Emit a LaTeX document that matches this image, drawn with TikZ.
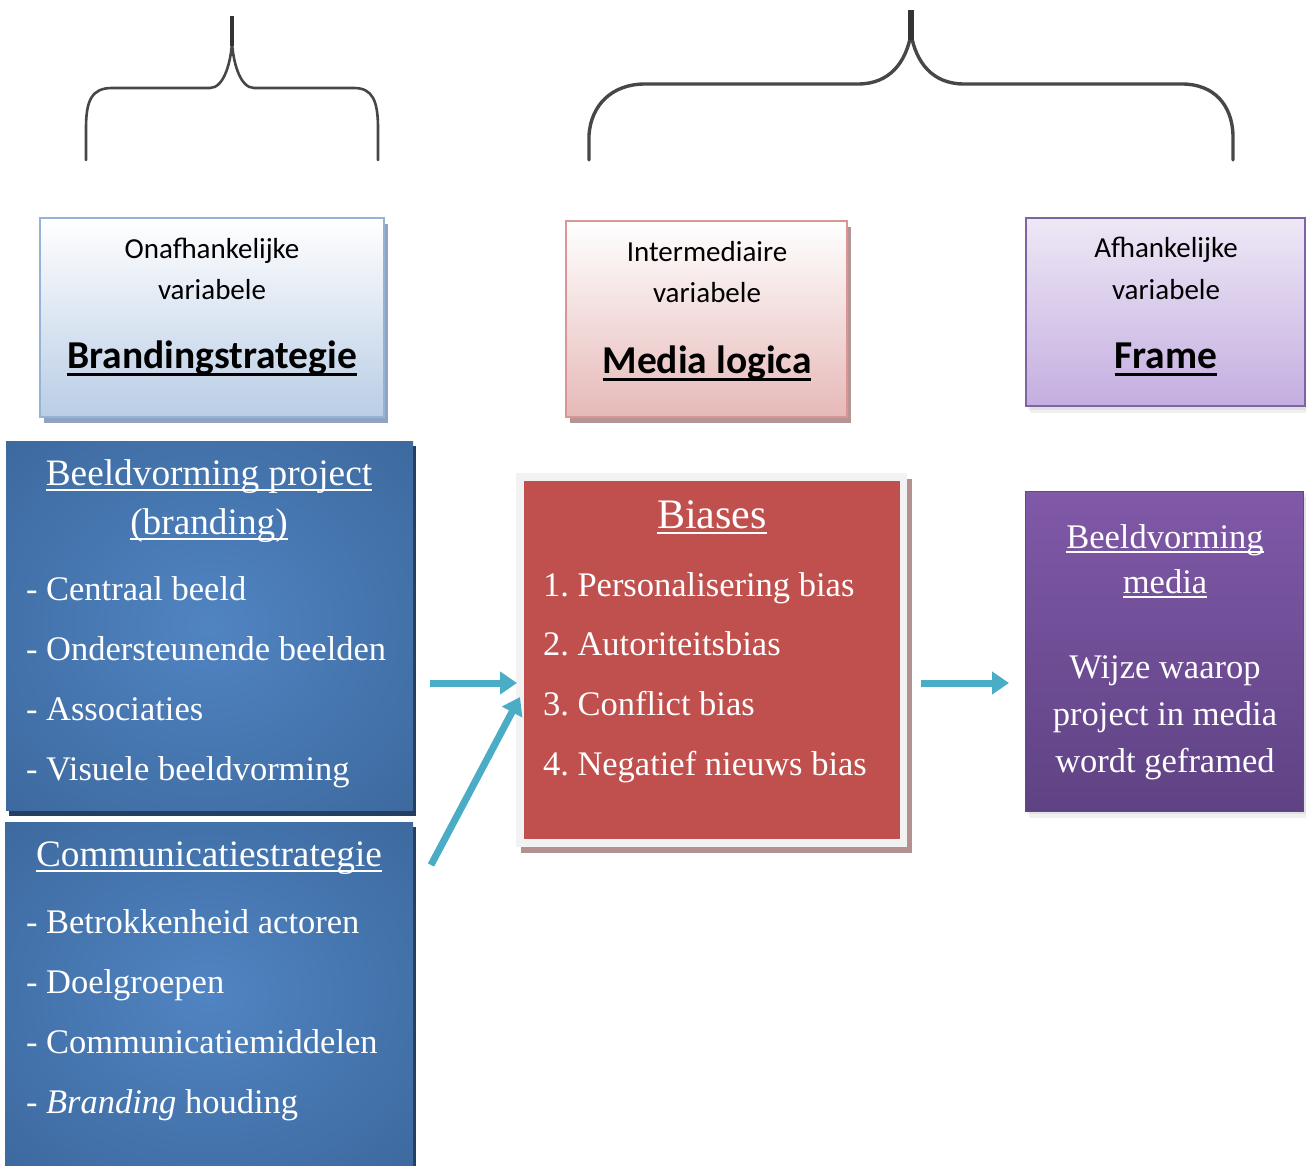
\documentclass[tikz,border=0pt]{standalone}
\usepackage{fontspec}
\setmainfont{Liberation Serif}
\newfontfamily\calib{Carlito}
\usetikzlibrary{arrows.meta}
\frenchspacing
\definecolor{arrowc}{HTML}{4BACC6}
\definecolor{blueI}{HTML}{5084C2}
\definecolor{blueO}{HTML}{355E90}
\definecolor{blueSh}{HTML}{243F60}
\definecolor{bAbot}{HTML}{B9CDE5}
\definecolor{bAbrd}{HTML}{95B3D7}
\definecolor{bAsh}{HTML}{8FA4C0}
\definecolor{bBbot}{HTML}{E6B9B8}
\definecolor{bBbrd}{HTML}{D99694}
\definecolor{bBsh}{HTML}{B59494}
\definecolor{bCtop}{HTML}{EEE8F6}
\definecolor{bCbot}{HTML}{C4AEE0}
\definecolor{bCbrd}{HTML}{8064A2}
\definecolor{redC}{HTML}{C0504D}
\definecolor{redFrame}{HTML}{F2F2F2}
\definecolor{redSh}{HTML}{B39191}
\definecolor{purT}{HTML}{8059A8}
\definecolor{purB}{HTML}{5F4284}
\pgfdeclareradialshading{bluerad}{\pgfpoint{0bp}{0bp}}{color(0bp)=(blueI); color(50bp)=(blueO)}
\newcommand\myul[3]{\setbox0\hbox{#3}\rlap{\rule[-#1]{\wd0}{#2}}\box0}
\newcommand\tms{\fontsize{34.5}{40}\selectfont}
\newcommand\tmsh{\fontsize{37.3}{43}\selectfont}
\tikzset{
  every node/.style={inner sep=0pt, outer sep=0pt},
  panel/.style={anchor=north west},
  shbox/.style={anchor=north west, fill=#1, draw=none},
  smalltxt/.style={font=\calib\fontsize{29}{34}\selectfont, anchor=base},
  bigtxt/.style={font=\calib\bfseries\fontsize{39.5}{44}\selectfont, anchor=base},
  wtxt/.style={font=\tms, text=white, anchor=base},
  wtxth/.style={font=\tmsh, text=white, anchor=base},
  wtxtl/.style={font=\tms, text=white, anchor=base west},
  arr/.style={draw=arrowc, line width=7pt, -{Triangle[length=17pt,width=22pt]}},
  bracel/.style={draw=black!72, line width=2.6pt, line cap=round},
  bracet/.style={draw=black!80, line width=4.5pt}
}
\begin{document}
\begin{tikzpicture}[x=1pt,y=-1pt]
\useasboundingbox[fill=white] (0,0) rectangle (1306,1166);

% ---------- braces ----------
\draw[bracel] (86,160) -- (86,128) .. controls (86,100) and (92,88) .. (112,88)
  -- (210,88) .. controls (224,88) and (231,62) .. (232,42);
\draw[bracel] (232,42) .. controls (233,62) and (240,88) .. (254,88)
  -- (354,88) .. controls (372,88) and (378,100) .. (378,128) -- (378,160);
\draw[bracet] (232,46) -- (232,16);

\draw[bracel, line width=3.4pt] (589,160) -- (589,135) .. controls (591,105) and (612,84) .. (645,84)
  -- (858,84) .. controls (890,84) and (906,62) .. (911,34);
\draw[bracel, line width=3.4pt] (911,34) .. controls (916,62) and (932,84) .. (964,84)
  -- (1182,84) .. controls (1214,84) and (1232,105) .. (1233,135) -- (1233,160);
\draw[bracet, line width=6pt] (911,40) -- (911,10);

% ---------- top boxes ----------
\node[shbox=bAsh, minimum width=344pt, minimum height=199pt] (bAs) at (44,224) {};
\node[panel, draw=bAbrd, line width=2pt, top color=white, bottom color=bAbot,
      minimum width=344pt, minimum height=199pt] (bA) at (40,218) {};
\node[smalltxt] (bA1) at (212,259) {Onafhankelijke};
\node[smalltxt] (bA2) at (212,299) {variabele};
\node[bigtxt] (bA3) at (212,368) {\myul{8pt}{3pt}{Brandingstrategie}};

\node[shbox=bBsh, minimum width=281pt, minimum height=196pt] (bBs) at (570,227) {};
\node[panel, draw=bBbrd, line width=2pt, top color=white, bottom color=bBbot,
      minimum width=281pt, minimum height=196pt] (bB) at (566,221) {};
\node[smalltxt] (bB1) at (707,262) {Intermediaire};
\node[smalltxt] (bB2) at (707,302) {variabele};
\node[bigtxt] (bB3) at (707,373) {\myul{8pt}{3pt}{Media logica}};

\fill[black, opacity=0.06] (1030,222) rectangle (1306,413);
\fill[black, opacity=0.06] (1028,220) rectangle (1306,410);
\node[panel, draw=bCbrd, line width=2pt, top color=bCtop, bottom color=bCbot,
      minimum width=279pt, minimum height=188pt] (bC) at (1026,218) {};
\node[smalltxt] (bC1) at (1166,258) {Afhankelijke};
\node[smalltxt] (bC2) at (1166,299) {variabele};
\node[bigtxt] (bC3) at (1166,368) {\myul{8pt}{3pt}{Frame}};

% ---------- blue boxes ----------
\node[shbox=blueSh, minimum width=407pt, minimum height=370pt] (bl1s) at (9,446) {};
\node[panel, shade, shading=bluerad, minimum width=407pt, minimum height=369pt] (bl1) at (6,441) {};
\node[wtxth] (h1a) at (209,485) {\myul{6pt}{2.2pt}{Beeldvorming project}};
\node[wtxth] (h1b) at (209,534) {\myul{6pt}{2.2pt}{(branding)}};
\node[wtxtl] (i1a) at (26,600) {- Centraal beeld};
\node[wtxtl] (i1b) at (26,660) {- Ondersteunende beelden};
\node[wtxtl] (i1c) at (26,720) {- Associaties};
\node[wtxtl] (i1d) at (26,780) {- Visuele beeldvorming};

\node[shbox=blueSh, minimum width=405pt, minimum height=340pt] (bl2s) at (11,827) {};
\node[panel, shade, shading=bluerad, minimum width=408pt, minimum height=344pt] (bl2) at (5,822) {};
\node[wtxth] (h2a) at (209,866) {\myul{6pt}{2.2pt}{Communicatiestrategie}};
\node[wtxtl] (i2a) at (26,933) {- Betrokkenheid actoren};
\node[wtxtl] (i2b) at (26,993) {- Doelgroepen};
\node[wtxtl] (i2c) at (26,1053) {- Communicatiemiddelen};
\node[wtxtl] (i2d) at (26,1113) {- \textit{Branding} houding};

% ---------- red box ----------
\node[shbox=redSh, minimum width=391pt, minimum height=374pt] (rs) at (521,479) {};
\node[shbox=redFrame, minimum width=391pt, minimum height=374pt] (rf) at (516,473) {};
\node[shbox=redC, minimum width=376pt, minimum height=358pt] (red) at (524,481) {};
\node[wtxt, font=\fontsize{42}{48}\selectfont] (r0) at (712,528) {\myul{6pt}{2.4pt}{Biases}};
\node[wtxtl] (r1) at (543,596) {1. Personalisering bias};
\node[wtxtl] (r2) at (543,655) {2. Autoriteitsbias};
\node[wtxtl] (r3) at (543,715) {3. Conflict bias};
\node[wtxtl] (r4) at (543,775) {4. Negatief nieuws bias};

% ---------- purple box ----------
\fill[black, opacity=0.06] (1029,497) rectangle (1306,818);
\fill[black, opacity=0.06] (1027,494) rectangle (1306,814);
\node[panel, top color=purT, bottom color=purB, draw=purT!80!black, line width=1pt,
      minimum width=278pt, minimum height=320pt] (pu) at (1025,491) {};
\node[wtxt] (p1) at (1165,548) {\myul{5pt}{2.2pt}{Beeldvorming}};
\node[wtxt] (p2) at (1165,593) {\myul{5pt}{2.2pt}{media}};
\node[wtxt] (p3) at (1165,678) {Wijze waarop};
\node[wtxt] (p4) at (1165,725) {project in media};
\node[wtxt] (p5) at (1165,772) {wordt geframed};

% ---------- arrows ----------
\coordinate (a1s) at (430,683);
\coordinate (a1e) at (517,683);
\coordinate (a2s) at (431,865);
\coordinate (a2e) at (520,697);
\coordinate (a3s) at (921,683);
\coordinate (a3e) at (1009,683);
\draw[arr] (a1s) -- (a1e);
\draw[arr] (a2s) -- (a2e);
\draw[arr] (a3s) -- (a3e);
\end{tikzpicture}
\end{document}
